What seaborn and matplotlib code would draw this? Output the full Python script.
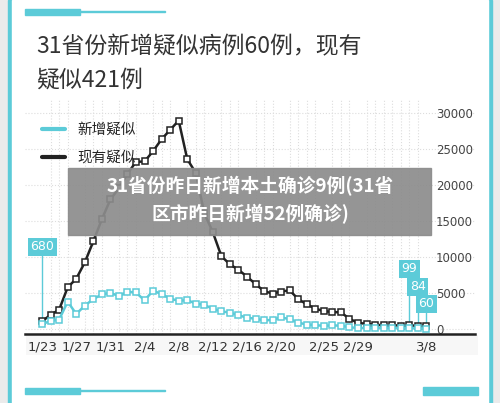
import matplotlib
matplotlib.use("Agg")
import matplotlib.pyplot as plt
import seaborn as sns
import pandas as pd
from matplotlib.patches import Rectangle

dates = ["1/23", "1/24", "1/25", "1/26", "1/27", "1/28", "1/29", "1/30", "1/31", "2/1",
         "2/2", "2/3", "2/4", "2/5", "2/6", "2/7", "2/8", "2/9", "2/10", "2/11",
         "2/12", "2/13", "2/14", "2/15", "2/16", "2/17", "2/18", "2/19", "2/20", "2/21",
         "2/22", "2/23", "2/24", "2/25", "2/26", "2/27", "2/28", "2/29", "3/1", "3/2",
         "3/3", "3/4", "3/5", "3/6", "3/7", "3/8"]
new_suspected = [680, 1118, 1309, 3806, 2077, 3248, 4148, 4812, 5019, 4562,
                 5173, 5072, 3971, 5328, 4833, 4214, 3916, 4008, 3536, 3342,
                 2807, 2450, 2277, 1918, 1563, 1432, 1185, 1277, 1614, 1361,
                 882, 620, 530, 439, 508, 452, 248, 132, 141, 129,
                 143, 143, 102, 99, 84, 60]
current_suspected = [1072, 1965, 2684, 5794, 6973, 9239, 12167, 15238, 17988, 19544,
                     21558, 23214, 23260, 24702, 26359, 27657, 28942, 23589, 21675, 16067,
                     13435, 10109, 8969, 8228, 7264, 6242, 5248, 4922, 5206, 5365,
                     4148, 3434, 2824, 2491, 2358, 2308, 1418, 851, 715, 587,
                     520, 522, 482, 502, 458, 421]
tick_labels = ["1/23", "1/27", "1/31", "2/4", "2/8", "2/12", "2/16", "2/20", "2/25", "2/29", "3/8"]
y_ticks = [0, 5000, 10000, 15000, 20000, 25000, 30000]

df = pd.DataFrame({"day": range(len(dates)), "date": dates,
                   "新增疑似": new_suspected, "现有疑似": current_suspected})

sns.set_style("white")
plt.rcParams['font.family'] = ['Noto Sans CJK SC', 'DejaVu Sans']

teal = "#5ccbd8"
black = "#222222"

fig = plt.figure(figsize=(5, 4.03), dpi=100)
W, H = 500, 403

# page background and teal frame
fig.patches.append(Rectangle((0, 0), 1, 1, transform=fig.transFigure, color="#ebebeb", zorder=-10))
fig.patches.append(Rectangle((8 / W, 0), 484 / W, 1, transform=fig.transFigure, color=teal, zorder=-9))
fig.patches.append(Rectangle((12 / W, 0), 476 / W, 1, transform=fig.transFigure, color="white", zorder=-8))
for yy in [10, 389]:
    fig.patches.append(Rectangle((25 / W, 1 - (yy + 5) / H), 55 / W, 6 / H, transform=fig.transFigure, color=teal))
    fig.patches.append(Rectangle((80 / W, 1 - (yy + 2) / H), 85 / W, 1.5 / H, transform=fig.transFigure, color=teal))
fig.patches.append(Rectangle((423 / W, 1 - 395 / H), 55 / W, 8 / H, transform=fig.transFigure, color=teal))

# title
fig.text(36 / W, 1 - 47 / H, "31省份新增疑似病例60例，现有", fontsize=16.5, color="#333333",
         va="center", weight="medium")
fig.text(36 / W, 1 - 80 / H, "疑似421例", fontsize=16.5, color="#333333", va="center", weight="medium")

ax = fig.add_axes([25 / W, 1 - 334 / H, 450 / W, 234 / H])
ax.set_facecolor("none")
sns.lineplot(data=df, x="day", y="现有疑似", ax=ax, color=black, lw=1.8, marker="s",
             markersize=5, markerfacecolor="white", markeredgecolor=black, markeredgewidth=1.1,
             label="现有疑似", zorder=3)
sns.lineplot(data=df, x="day", y="新增疑似", ax=ax, color=teal, lw=1.8, marker="s",
             markersize=5, markerfacecolor="white", markeredgecolor=teal, markeredgewidth=1.1,
             label="新增疑似", zorder=4)

ax.set_xlim(-2.0, 50.7)
ax.set_ylim(-694, 31800)
ax.set_xlabel("")
ax.set_ylabel("")
ax.set_xticks([dates.index(t) for t in tick_labels])
ax.set_xticklabels(tick_labels, fontsize=9.5, color="#333333", family="DejaVu Sans")
ax.set_xticks(range(len(dates)), minor=True)
ax.yaxis.tick_right()
ax.set_yticks(y_ticks)
ax.set_yticklabels([str(v) for v in y_ticks], fontsize=8.5, color="#444444", family="DejaVu Sans")
ax.tick_params(axis="y", length=0, pad=-28)
ax.tick_params(axis="x", length=0, pad=5)
ax.grid(axis="x", which="minor", color="#dddddd", ls=":", lw=0.8)
ax.grid(axis="y", color="#dddddd", ls=":", lw=0.8)
for s in ["top", "left", "right"]:
    ax.spines[s].set_visible(False)
ax.spines["bottom"].set_color("#222222")
ax.spines["bottom"].set_linewidth(1.8)

# hatched band under the x labels
fig.patches.append(Rectangle((26 / W, 1 - 355 / H), 452 / W, 20 / H, transform=fig.transFigure,
                             facecolor="#f7f7f7", edgecolor="none", hatch="//////", zorder=-5))

# legend
handles, labels = ax.get_legend_handles_labels()
ax.legend(handles[::-1], labels[::-1], loc="upper left", bbox_to_anchor=(0.015, 0.945), frameon=False,
          fontsize=10.5, handlelength=1.6, labelspacing=0.95, borderaxespad=0.3)
for line in ax.get_legend().get_lines():
    line.set_marker("")
    line.set_linewidth(3)

# value callouts
callouts = [(0, 680, 11400), (43, 99, 8400), (44, 84, 5900), (45, 60, 3500)]
for day, val, ytxt in callouts:
    ax.plot([day, day], [new_suspected[day], ytxt], color=teal, lw=1, zorder=2)
    ax.text(day, ytxt, str(val), ha="center", va="center", color="white", fontsize=9,
            family="DejaVu Sans", zorder=6,
            bbox=dict(boxstyle="square,pad=0.2", fc=teal, ec="none"))

# gray overlay banner
fig.patches.append(Rectangle((68 / W, 1 - 235 / H), 363 / W, 67 / H, transform=fig.transFigure,
                             color="#8c8c8c", alpha=0.92, zorder=10))
fig.text(250 / W, 1 - 186 / H, "31省份昨日新增本土确诊9例(31省", fontsize=13.5, color="white",
         weight="bold", ha="center", va="center", zorder=11)
fig.text(250 / W, 1 - 214 / H, "区市昨日新增52例确诊)", fontsize=13.5, color="white",
         weight="bold", ha="center", va="center", zorder=11)

fig.savefig("out.png", dpi=100)
